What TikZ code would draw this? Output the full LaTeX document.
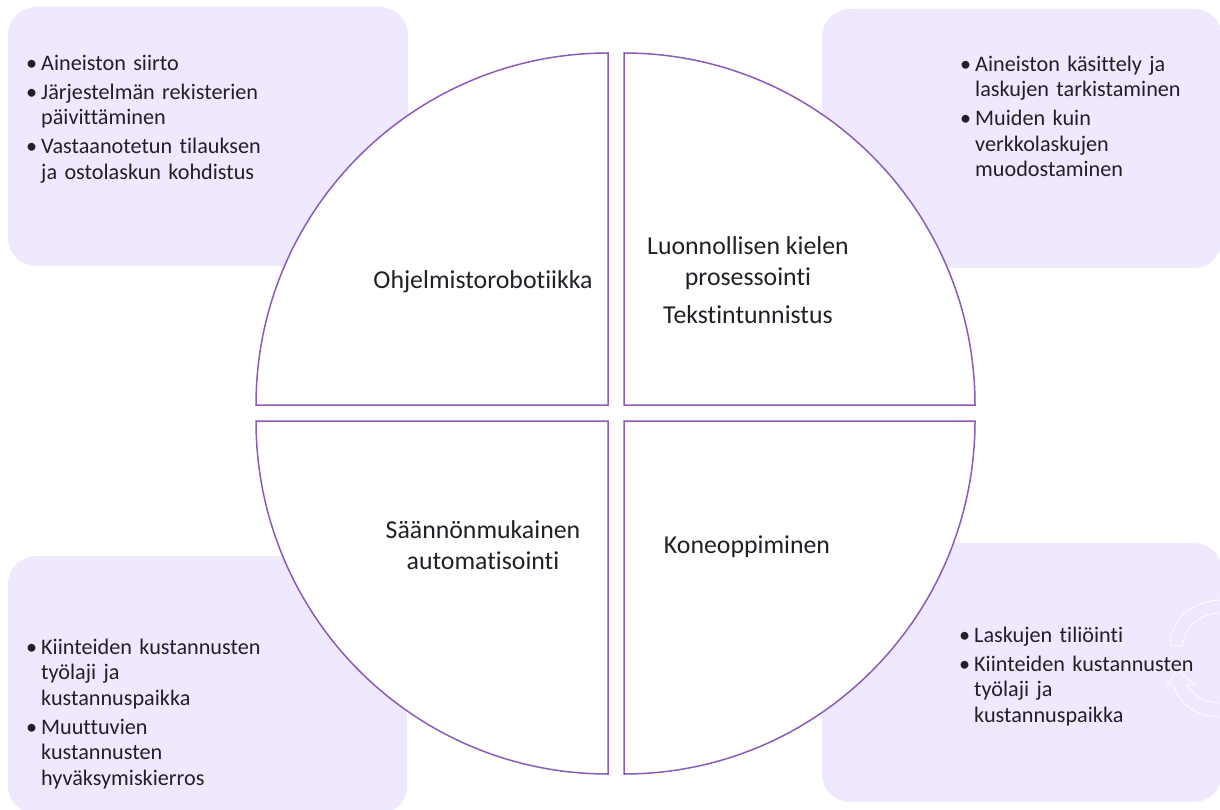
\documentclass[tikz,border=0pt]{standalone}
\usepackage{fontspec}
\setmainfont{Carlito}[Ligatures=NoCommon]
\usetikzlibrary{positioning}
\definecolor{boxfill}{HTML}{F0E8FF}
\definecolor{quadline}{HTML}{8A5CB8}
\definecolor{inktext}{HTML}{222026}
\newcommand{\bitem}[1]{\par\hangindent=15pt\hangafter=1\noindent\hbox to 15pt{\textbullet\hfil}#1\par}
\tikzstyle{info box}=[fill=boxfill,rounded corners=28pt]
\tikzstyle{quad}=[draw=quadline,line width=1.5pt,fill=white,line join=miter]
\tikzstyle{info text}=[inner sep=0,anchor=north west,text width=250pt,align=left,text=inktext,
    font=\fontsize{22.2}{25.5}\selectfont,execute at begin node={\parskip=3.5pt}]
\tikzstyle{quad label}=[inner sep=0,align=center,text=inktext,font=\fontsize{25.8}{31}\selectfont]
\tikzstyle{ghost}=[draw=white,line width=.8pt,fill=none]

\begin{document}
\begin{tikzpicture}[x=1pt,y=-1pt]
		\useasboundingbox (0,0) rectangle (1220,810);
		\clip (0,0) rectangle (1220,810);

		% background boxes
		\fill[info box] (8,7) rectangle (408,266);
		\fill[info box] (822,9) rectangle (1222,268);
		\fill[info box] (8,556) rectangle (407,814);
		\fill[info box] (822,543) rectangle (1222,802);

		% faint cycle arrows
		\draw[ghost] (1170,646) .. controls (1170,620) and (1192,600) .. (1222,600) -- (1222,613) .. controls (1200,613) and (1183,627) .. (1183,646) -- cycle;
		\draw[ghost] (1222,717) .. controls (1197,717) and (1180,705) .. (1174,686) -- (1167,686) -- (1177,670) -- (1195,685) -- (1187,685) .. controls (1193,696) and (1205,703) .. (1222,703);

		% four quadrants
		\draw[quad] (608,405) -- (256,405) arc[start angle=180,end angle=270,x radius=352,y radius=352] -- cycle;
		\draw[quad] (624,405) -- (624,53) arc[start angle=-90,end angle=0,x radius=351,y radius=352] -- cycle;
		\draw[quad] (608,421) -- (608,774) arc[start angle=90,end angle=180,x radius=352,y radius=353] -- cycle;
		\draw[quad] (624,421) -- (975,421) arc[start angle=0,end angle=90,x radius=351,y radius=353] -- cycle;

		\node(robotics)[quad label] at (483,282) {Ohjelmistorobotiikka};
		\node(language)[quad label] at (748,263) {Luonnollisen kielen\\prosessointi};
		\node(ocr)[quad label] at (748,315) {Tekstintunnistus};
		\node(rules)[quad label] at (483,545) {Säännönmukainen\\automatisointi};
		\node(learning)[quad label] at (747,547) {Koneoppiminen};

		\node(topleft)[info text] at (26,41) {
		    \bitem{Aineiston siirto}
		    \bitem{Järjestelmän rekisterien\newline päivittäminen}
		    \bitem{Vastaanotetun tilauksen\newline ja ostolaskun kohdistus}};
		\node(topright)[info text] at (960,42) {
		    \bitem{Aineiston käsittely ja\newline laskujen tarkistaminen}
		    \bitem{Muiden kuin\newline verkkolaskujen\newline muodostaminen}};
		\node(bottomleft)[info text] at (26,625) {
		    \bitem{Kiinteiden kustannusten\newline työlaji ja\newline kustannuspaikka}
		    \bitem{Muuttuvien\newline kustannusten\newline hyväksymiskierros}};
		\node(bottomright)[info text] at (959,613) {
		    \bitem{Laskujen tiliöinti}
		    \bitem{Kiinteiden kustannusten\newline työlaji ja\newline kustannuspaikka}};

\end{tikzpicture}
\end{document}
